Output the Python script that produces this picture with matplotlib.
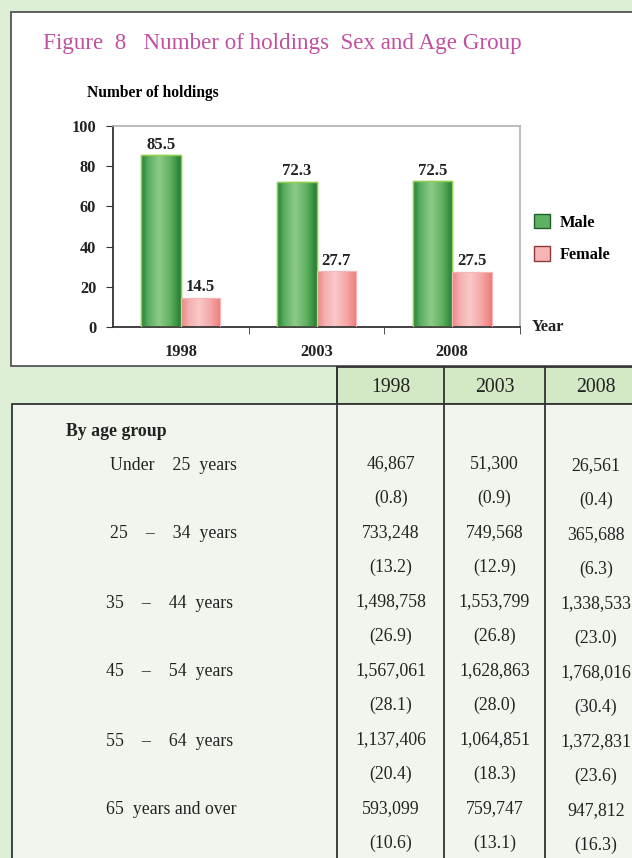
import numpy as np
import matplotlib
matplotlib.use("Agg")
import matplotlib.pyplot as plt
from matplotlib.patches import Rectangle, Patch
from matplotlib.colors import LinearSegmentedColormap

# ---------------- data ----------------
years = ["1998", "2003", "2008"]
male = [85.5, 72.3, 72.5]
female = [14.5, 27.7, 27.5]
yticks = [0, 20, 40, 60, 80, 100]

age_groups = ["Under    25  years", "25    \u2013    34  years", "35    \u2013    44  years",
              "45    \u2013    54  years", "55    \u2013    64  years", "65  years and over"]
holdings_1998 = [46867, 733248, 1498758, 1567061, 1137406, 593099]
pct_1998 = [0.8, 13.2, 26.9, 28.1, 20.4, 10.6]
holdings_2003 = [51300, 749568, 1553799, 1628863, 1064851, 759747]
pct_2003 = [0.9, 12.9, 26.8, 28.0, 18.3, 13.1]
holdings_2008 = [26561, 365688, 1338533, 1768016, 1372831, 947812]
pct_2008 = [0.4, 6.3, 23.0, 30.4, 23.6, 16.3]

W, H = 632, 858
SERIF = ["Liberation Serif", "DejaVu Serif"]
plt.rcParams["font.family"] = SERIF

fig = plt.figure(figsize=(W / 100, H / 100), dpi=100, facecolor="#ddeed6")

# ---------- background overlay in pixel coordinates ----------
bg = fig.add_axes([0, 0, 1, 1], zorder=0)
bg.set_xlim(0, W)
bg.set_ylim(H, 0)
bg.axis("off")

# chart box
bg.add_patch(Rectangle((11, 12), 700, 354, facecolor="white", edgecolor="#555555", lw=1.3))
bg.text(43, 43, "Figure  8   Number of holdings  Sex and Age Group", fontsize=16.6,
        color="#c2509e", va="center", ha="left")
bg.text(87, 93, "Number of holdings", fontsize=11.2, fontweight="bold", va="center", ha="left")

# table
col_edges = [337, 444, 545, 660]
bg.add_patch(Rectangle((337, 367), 400, 37, facecolor="#d3e9c5", edgecolor="#333333", lw=1.3))
bg.add_patch(Rectangle((12, 404), 700, 500, facecolor="#f0f6ed", edgecolor="#333333", lw=1.3))
for xe in col_edges[:3]:
    bg.plot([xe, xe], [367, H + 5], color="#333333", lw=1.3)
col_centers = [(col_edges[i] + col_edges[i + 1]) / 2 for i in range(3)]
col_centers[0] = 391
col_centers[2] = 596
for cx, yr in zip(col_centers, years):
    bg.text(cx, 387, yr, fontsize=14.2, ha="center", va="center", color="#222222")

bg.text(66, 431, "By age group", fontsize=12.8, fontweight="bold", ha="left", va="center",
        color="#222222")
cols = [(holdings_1998, pct_1998), (holdings_2003, pct_2003), (holdings_2008, pct_2008)]
row0, step = 464, 69
for i, lab in enumerate(age_groups):
    y = row0 + i * step
    bg.text(110 if i < 2 else 106, y + 1, lab, fontsize=12.8, ha="left", va="center", color="#222222")
    for j, (hv, pv) in enumerate(cols):
        dy = 2 if j == 2 else 0
        bg.text(col_centers[j], y + dy, f"{hv[i]:,}", fontsize=12.8, ha="center", va="center",
                color="#222222")
        bg.text(col_centers[j], y + 34.5 + dy, f"({pv[i]:.1f})", fontsize=12.8, ha="center",
                va="center", color="#222222")

# ---------------- chart axes ----------------
ax_l, ax_r, ax_t, ax_b = 113, 520, 126, 327
ax = fig.add_axes([ax_l / W, 1 - ax_b / H, (ax_r - ax_l) / W, (ax_b - ax_t) / H], zorder=2)
ax.set_facecolor("white")

x = np.arange(len(years))
bw = 0.29
mbars = ax.bar(x - bw / 2, male, bw, color="#5aae5f", edgecolor="#8fd14f", lw=1.0, zorder=2)
fbars = ax.bar(x + bw / 2, female, bw, color="#f5aaaa", edgecolor="#f7b5b5", lw=0.8, zorder=2)

green_cmap = LinearSegmentedColormap.from_list(
    "g", [(0, "#237f35"), (0.18, "#5aae5f"), (0.45, "#8ecb8b"), (0.75, "#5daf5e"), (1, "#217d33")])
pink_cmap = LinearSegmentedColormap.from_list(
    "p", [(0, "#ee8585"), (0.2, "#f5b0b0"), (0.45, "#fac9c9"), (0.75, "#f5a5a5"), (1, "#ef7b7b")])
grad = np.linspace(0, 1, 128).reshape(1, -1)
for bars, cmap in ((mbars, green_cmap), (fbars, pink_cmap)):
    for b in bars:
        bx, by, bwid, bh = b.get_x(), b.get_y(), b.get_width(), b.get_height()
        im = ax.imshow(grad, cmap=cmap, aspect="auto", extent=[bx, bx + bwid, by, by + bh],
                       zorder=2.5, interpolation="bilinear")
        im.set_clip_path(b)
        ax.add_patch(Rectangle((bx, by), bwid, bh, fill=False,
                               edgecolor=b.get_edgecolor(), lw=b.get_linewidth(), zorder=3))

for bars, vals in ((mbars, male), (fbars, female)):
    for b, v in zip(bars, vals):
        ax.text(b.get_x() + b.get_width() / 2, v + 1.2, f"{v:.1f}", ha="center", va="bottom",
                fontsize=12, fontweight="bold", color="#222222", zorder=4)

ax.set_xlim(-0.5, len(years) - 0.5)
ax.set_ylim(0, 100)
ax.set_yticks(yticks)
ax.set_yticklabels([str(t) for t in yticks], fontsize=11.8, fontweight="bold", color="#222222")
ax.set_xticks(x)
ax.set_xticklabels(years, fontsize=11.8, fontweight="bold", color="#222222")
ax.tick_params(axis="x", length=0, pad=12)
ax.set_xticks(np.arange(len(years)) + 0.5, minor=True)
ax.tick_params(axis="x", which="minor", length=5, direction="out", color="#333333")
ax.tick_params(axis="y", length=5, direction="out", color="#333333", pad=7)
for s in ("top", "right"):
    ax.spines[s].set_color("#b0b0b0")
    ax.spines[s].set_linewidth(1.2)
for s in ("left", "bottom"):
    ax.spines[s].set_color("#333333")
    ax.spines[s].set_linewidth(1.3)

ax.text(1.03, 0.0, "Year", transform=ax.transAxes, fontsize=11.8, fontweight="bold",
        ha="left", va="center", color="#222222")

handles = [Patch(facecolor="#5fb063", edgecolor="#1f5f2a", lw=1.0, label="Male"),
           Patch(facecolor="#f8b4b4", edgecolor="#8a3a3a", lw=1.0, label="Female")]
leg = ax.legend(handles=handles, loc="upper left", bbox_to_anchor=(527 / W, 1 - 207 / H),
                bbox_transform=fig.transFigure, frameon=False, handlelength=1.0,
                handleheight=1.0, labelspacing=0.95, handletextpad=0.6, borderaxespad=0,
                prop={"family": SERIF, "weight": "bold", "size": 11.8})

fig.savefig("out.png", dpi=100, facecolor=fig.get_facecolor())
